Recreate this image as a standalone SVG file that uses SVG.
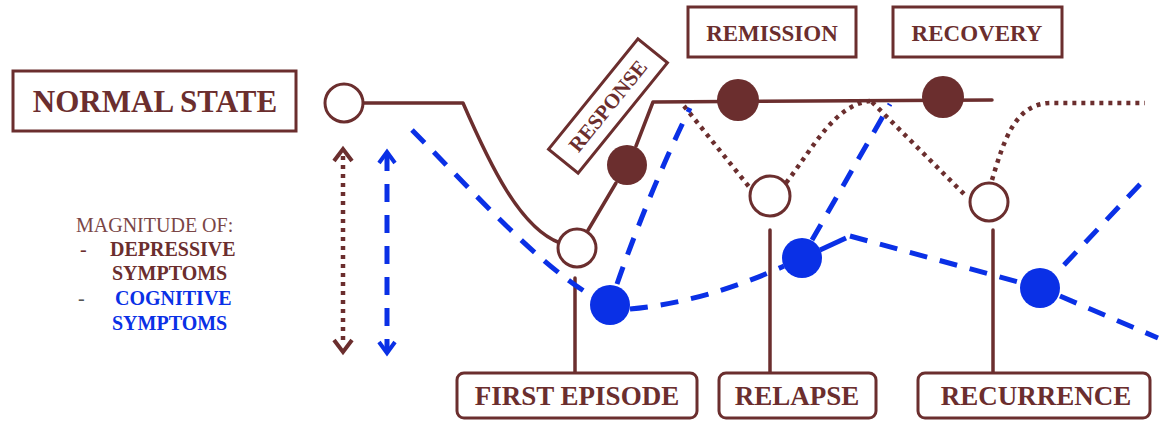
<svg xmlns="http://www.w3.org/2000/svg" width="1161" height="421" viewBox="0 0 1161 421">
<style>
.box{fill:#fff;stroke:#6b2e2e;stroke-width:3}
.lbl{font-family:"Liberation Serif",serif;font-weight:bold;fill:#6b2e2e;text-anchor:middle}
.solid{fill:none;stroke:#6b2e2e;stroke-width:3.5;stroke-linecap:round;stroke-linejoin:round}
.dot{fill:none;stroke:#6b2e2e;stroke-width:4.5;stroke-dasharray:4 5}
.dash{fill:none;stroke:#0a30e6;stroke-width:5;stroke-dasharray:18 13}
.open{fill:#fff;stroke:#6b2e2e;stroke-width:3}
.fb{fill:#6b2e2e}
.fu{fill:#0a30e6}
.leg{font-family:"Liberation Serif",serif;font-size:20px}
</style>
<rect width="1161" height="421" fill="#fff"/>
<g id="connectors">
  <path class="solid" d="M363,103 L463,103 C490,165 520,228 560,243"/>
  <path class="solid" d="M587,232 L616,183"/>
  <path class="solid" d="M636,146 L653,102 L992,100"/>
  <path class="dot" d="M684,106 L750,188"/>
  <path class="dot" d="M786,183 C815,145 835,105 870,101"/>
  <path class="dot" d="M872,102 L966,196"/>
  <path class="dot" d="M992,180 C1004,140 1015,104 1050,103 L1145,103"/>
  <path class="solid" d="M575,278 L575,373"/>
  <path class="solid" d="M770,230 L770,373"/>
  <path class="solid" d="M993,230 L993,373"/>
  <path class="dash" d="M412,130 C470,188 535,262 592,296"/>
  <path class="dash" d="M617,284 Q650,190 690,108"/>
  <path class="dash" d="M630,309 Q705,302 784,266"/>
  <path class="dash" d="M812,240 L890,104"/>
  <path fill="none" stroke="#0a30e6" stroke-width="5" d="M820,250 L846,238"/>
  <path class="dash" d="M850,236 L1022,283"/>
  <path class="dash" d="M1060,296 L1158,338"/>
  <path class="dash" d="M1064,265 L1146,178"/>
  <path class="dot" d="M343,156 L343,345"/>
  <polyline fill="none" stroke="#6b2e2e" stroke-width="4" points="334,161 343,149 352,161"/>
  <polyline fill="none" stroke="#6b2e2e" stroke-width="4" points="334,340 343,352 352,340"/>
  <path class="dash" d="M387,153 L387,352" stroke-dasharray="13 14 18 14"/>
  <polyline fill="none" stroke="#0a30e6" stroke-width="4" points="379,163 387,152 395,163"/>
  <polyline fill="none" stroke="#0a30e6" stroke-width="4" points="379,342 387,353 395,342"/>
</g>
<g id="normal-state">
  <rect class="box" x="13" y="71" width="283" height="60"/>
  <text class="lbl" x="155" y="112" font-size="31">NORMAL STATE</text>
  <circle class="open" cx="344" cy="103" r="19"/>
</g>
<g id="response">
  <rect class="box" x="-71" y="-19" width="142" height="38" transform="translate(608,106) rotate(-51)"/>
  <text class="lbl" font-size="21" transform="translate(608,106) rotate(-51)" y="7">RESPONSE</text>
</g>
<g id="remission">
  <rect class="box" x="688" y="7" width="168" height="50"/>
  <text class="lbl" x="772" y="41" font-size="23">REMISSION</text>
</g>
<g id="recovery">
  <rect class="box" x="893" y="7" width="169" height="50"/>
  <text class="lbl" x="977" y="41" font-size="23">RECOVERY</text>
</g>
<g id="first-episode">
  <rect class="box" x="457" y="373" width="240" height="45" rx="7"/>
  <text class="lbl" x="577" y="405" font-size="27">FIRST EPISODE</text>
</g>
<g id="relapse">
  <rect class="box" x="719" y="373" width="157" height="45" rx="7"/>
  <text class="lbl" x="797" y="405" font-size="27">RELAPSE</text>
</g>
<g id="recurrence">
  <rect class="box" x="918" y="373" width="232" height="45" rx="7"/>
  <text class="lbl" x="1036" y="405" font-size="27">RECURRENCE</text>
</g>
<g id="points">
  <circle class="open" cx="577" cy="248" r="19"/>
  <circle class="fb" cx="627" cy="165" r="20"/>
  <circle class="fb" cx="738" cy="100" r="21"/>
  <circle class="fb" cx="943" cy="97" r="21"/>
  <circle class="open" cx="770" cy="196" r="20"/>
  <circle class="open" cx="989" cy="202" r="19"/>
  <circle class="fu" cx="610" cy="305" r="20"/>
  <circle class="fu" cx="802" cy="258" r="20"/>
  <circle class="fu" cx="1040" cy="288" r="20"/>
</g>
<g id="legend">
  <text class="leg" x="76" y="232" fill="#7a4646">MAGNITUDE OF:</text>
  <text class="leg" x="80" y="256" fill="#6b2e2e">-</text>
  <text class="leg" x="110" y="256" fill="#6b2e2e" font-weight="bold">DEPRESSIVE</text>
  <text class="leg" x="112" y="280" fill="#6b2e2e" font-weight="bold">SYMPTOMS</text>
  <text class="leg" x="78" y="305" fill="#555">-</text>
  <text class="leg" x="115" y="305" fill="#0a30e6" font-weight="bold">COGNITIVE</text>
  <text class="leg" x="112" y="330" fill="#0a30e6" font-weight="bold">SYMPTOMS</text>
</g>
</svg>
